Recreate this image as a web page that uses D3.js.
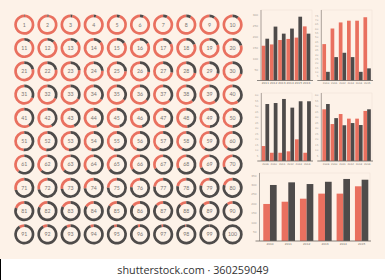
<!DOCTYPE html>
<html><head><meta charset="utf-8">
<script src="https://cdn.jsdelivr.net/npm/d3@7"></script>
<style>
html,body{margin:0;padding:0;background:#fff;}
svg{display:block;}
</style></head>
<body>
<script>
// ---------- DATA ----------
const donutValues = [1,2,3,4,5,6,7,8,9,10,11,12,13,14,15,16,17,18,19,20,
21,22,23,24,25,26,27,28,29,30,31,32,33,34,35,36,37,38,39,40,
41,42,43,44,45,46,47,48,49,50,51,52,53,54,55,56,57,58,59,60,
61,62,63,64,65,66,67,68,69,70,71,72,73,74,75,76,77,78,79,80,
81,82,83,84,85,86,87,88,89,90,91,92,93,94,95,96,97,98,99,100];

const years1 = ["2011","2012","2013","2014","2015","2016"];
const red1 = [158,164,184,189,195,246];
const dark1 = [190,245,213,236,290,213];
const ticks1 = [50,100,150,200,250,300];

const years2 = ["2010","2011","2012","2013","2014","2015"];
const red2 = [42,60,67,69,69,73];
const dark2 = [10,27,32,27,10,14];
const ticks2 = [5,10,15,20,25,30,35,40,45,50,55,60,65,70,75];

const years3 = ["2009","2010","2011","2012","2013","2014"];
const red3 = [13.6,7.5,7.5,8.8,19.7,7.5];
const dark3 = [51.8,52.7,56.4,48.5,54.3,54.3];
const ticks3 = [5,10,15,20,25,30,35,40,45,50,55,60];

const years4 = ["2009","2010","2011","2012","2013","2014"];
const red4 = [47,33.6,42.7,38.5,38.5,45.5];
const dark4 = [51.8,39,32.5,34.5,32.7,47];
const ticks4 = [5,10,15,20,25,30,35,40,45,50,55,60];

const years5 = ["2010","2011","2012","2013","2014","2015"];
const red5 = [197,209,225,252,252,291];
const dark5 = [298,312,303,315,330,326];
const ticks5 = [50,100,150,200,250,300,350];

// ---------- STYLE ----------
const BG = "#fdf2e8", RED = "#e9705f", DARK = "#4e4b4a";
const W = 385, H = 280;

const svg = d3.select("body").append("svg").attr("width", W).attr("height", H);
svg.append("rect").attr("width", W).attr("height", H).attr("fill", "#fff");
svg.append("rect").attr("width", W).attr("height", 259).attr("fill", BG);
svg.append("rect").attr("x",0).attr("y",259).attr("width",1).attr("height",21).attr("fill","#000");
svg.append("text").attr("x", 193).attr("y", 273.5).attr("text-anchor","middle")
  .attr("font-family","Open Sans, sans-serif").attr("font-size", 10.8).attr("fill","#333")
  .text("shutterstock.com · 360259049");

// ---------- DONUTS ----------
const colScale = d3.scaleLinear().domain([0,9]).range([24.3, 232.6]);
const rowScale = d3.scaleLinear().domain([0,9]).range([24.7, 234.4]);
const arc = d3.arc().innerRadius(7.4).outerRadius(10.1);
const pct = d3.scaleLinear().domain([0,100]).range([0, 2*Math.PI]);

const dg = svg.append("g");
donutValues.forEach((v, i) => {
  const g = dg.append("g").attr("transform", `translate(${colScale(i%10)},${rowScale(Math.floor(i/10))})`);
  g.append("path").attr("d", arc({startAngle: pct(v), endAngle: 2*Math.PI})).attr("fill", RED);
  g.append("path").attr("d", arc({startAngle: 0, endAngle: pct(v)})).attr("fill", DARK);
  g.append("text").attr("text-anchor","middle").attr("dy","0.35em")
    .attr("font-family","Lato, sans-serif").attr("font-size", 5.2).attr("fill","#7a7471")
    .text(v);
});

// ---------- BAR CHARTS ----------
function barChart(cfg){
  const g = svg.append("g");
  const x = d3.scaleBand().domain(cfg.years).range([cfg.x0, cfg.x1])
      .paddingInner(cfg.pad).paddingOuter(cfg.padOuter);
  const sub = d3.scaleBand().domain(["r","d"]).range([0, x.bandwidth()]);
  const y = d3.scaleLinear().domain(cfg.domain).range([cfg.yb, cfg.yt]);
  // faint frame
  g.append("rect").attr("x", cfg.ax).attr("y", cfg.ft).attr("width", cfg.fr - cfg.ax)
    .attr("height", cfg.yb - cfg.ft).attr("fill","none").attr("stroke","#f1e2d6").attr("stroke-width",0.6);
  cfg.years.forEach((yr, i) => {
    g.append("rect").attr("x", x(yr)+sub("r")).attr("width", sub.bandwidth())
      .attr("y", y(cfg.red[i])).attr("height", y(0)-y(cfg.red[i])).attr("fill", RED);
    g.append("rect").attr("x", x(yr)+sub("d")).attr("width", sub.bandwidth())
      .attr("y", y(cfg.dark[i])).attr("height", y(0)-y(cfg.dark[i])).attr("fill", DARK);
  });
  const ya = g.append("g").attr("transform", `translate(${cfg.ax},0)`)
    .call(d3.axisLeft(y).tickValues(cfg.ticks).tickSize(0).tickPadding(cfg.tp));
  ya.select(".domain").remove();
  ya.selectAll("text").attr("font-size", cfg.fs).attr("fill","#a59c95").attr("font-family","DejaVu Sans, sans-serif");
  g.append("line").attr("x1", cfg.ax).attr("x2", cfg.ax).attr("y1", cfg.ft).attr("y2", cfg.yb)
    .attr("stroke","#8d8580").attr("stroke-width",0.7);
  g.append("line").attr("x1", cfg.ax-4).attr("x2", cfg.fr+1).attr("y1", cfg.yb).attr("y2", cfg.yb)
    .attr("stroke","#6f6a66").attr("stroke-width",0.8);
  const xa = g.append("g").attr("transform", `translate(0,${cfg.yb})`)
    .call(d3.axisBottom(x).tickSize(0).tickPadding(cfg.xp));
  xa.select(".domain").remove();
  xa.selectAll("text").attr("font-size", cfg.fs).attr("fill","#6f6a66").attr("font-family","DejaVu Sans, sans-serif");
}

barChart({years:years1, red:red1, dark:dark1, ticks:ticks1, domain:[0,300],
  x0:261.5, x1:310.5, pad:0.1, padOuter:0.02, yb:80.5, yt:14.5, ax:261, ft:10, fr:312, tp:3, xp:2, fs:2.8});
barChart({years:years2, red:red2, dark:dark2, ticks:ticks2, domain:[0,75],
  x0:322.2, x1:371, pad:0.1, padOuter:0.02, yb:80.5, yt:15.5, ax:321.3, ft:10, fr:372, tp:3, xp:2, fs:2.5});
barChart({years:years3, red:red3, dark:dark3, ticks:ticks3, domain:[0,60],
  x0:261.5, x1:311, pad:0.1, padOuter:0.02, yb:161, yt:95, ax:261.3, ft:93, fr:312, tp:3, xp:2, fs:2.5});
barChart({years:years4, red:red4, dark:dark4, ticks:ticks4, domain:[0,60],
  x0:322.2, x1:371, pad:0.1, padOuter:0.02, yb:161, yt:95, ax:321.3, ft:93, fr:372, tp:3, xp:2, fs:2.5});
barChart({years:years5, red:red5, dark:dark5, ticks:ticks5, domain:[0,350],
  x0:260.8, x1:370.8, pad:0.27, padOuter:0.135, yb:241, yt:175.2, ax:259.5, ft:173, fr:370, tp:3, xp:2.5, fs:2.8});
</script>
</body></html>
